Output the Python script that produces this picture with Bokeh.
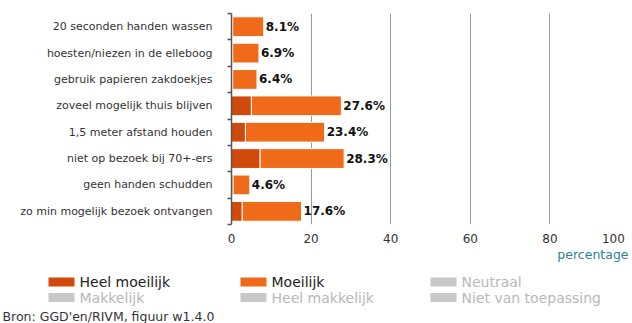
from bokeh.plotting import figure
from bokeh.layouts import column
from bokeh.models import Range1d, FixedTicker, ColumnDataSource
from bokeh.core.properties import value
from bokeh.embed import file_html
from bokeh.resources import INLINE

# ---- data ----
categories = ["20 seconden handen wassen", "hoesten/niezen in de elleboog",
              "gebruik papieren zakdoekjes", "zoveel mogelijk thuis blijven",
              "1,5 meter afstand houden", "niet op bezoek bij 70+-ers",
              "geen handen schudden", "zo min mogelijk bezoek ontvangen"]
heel_moeilijk = [0.3, 0.3, 0.3, 5.0, 3.5, 7.2, 0.4, 2.7]
totaal = [8.1, 6.9, 6.4, 27.6, 23.4, 28.3, 4.6, 17.6]
x_ticks = [0, 20, 40, 60, 80, 100]
legend_labels = ["Heel moeilijk", "Moeilijk", "Neutraal",
                 "Makkelijk", "Heel makkelijk", "Niet van toepassing"]
legend_colors = ["#d04a0b", "#ef6b1a", "#c8c8c8", "#c8c8c8", "#c8c8c8", "#c8c8c8"]
legend_text_colors = ["#222222", "#222222", "#b8b8b8", "#b8b8b8", "#b8b8b8", "#b8b8b8"]
source_text = "Bron: GGD'en/RIVM, figuur w1.4.0"
axis_title = "percentage"

FONT = "DejaVu Sans"
n = len(categories)
ypos = [n - i - 0.5 for i in range(n)]

src = ColumnDataSource(dict(
    y=ypos, heel=heel_moeilijk, tot=totaal,
    lab=[f"{t:.1f}%" for t in totaal]))

W = 632
TOP_H = 248
FL, FR, FT, FB = 231, 629, 13, 227   # frame edges on the canvas

p = figure(width=W, height=TOP_H, output_backend="svg", toolbar_location=None,
           x_range=Range1d(0, 100), y_range=Range1d(0, n),
           min_border_left=FL, min_border_right=W - FR, min_border_top=FT,
           min_border_bottom=TOP_H - FB, frame_align=False)
p.outline_line_color = None
p.background_fill_color = "white"
p.border_fill_color = "white"

p.hbar(y="y", left=0, right="heel", height=0.75, source=src,
       fill_color=legend_colors[0], line_color="white", line_width=1)
p.hbar(y="y", left="heel", right="tot", height=0.75, source=src,
       fill_color=legend_colors[1], line_color="white", line_width=1)
p.text(x="tot", y="y", text="lab", source=src, x_offset=2,
       text_baseline="middle", text_align="left",
       text_font=value(FONT), text_font_style="bold",
       text_font_size="12px", text_color="#111111")

# grid
p.ygrid.visible = False
p.xgrid.ticker = FixedTicker(ticks=x_ticks)
p.xgrid.grid_line_color = "#9a9a9a"
p.xgrid.grid_line_width = 1

# x axis
xa = p.xaxis[0]
xa.ticker = FixedTicker(ticks=x_ticks)
xa.axis_line_color = None
xa.major_tick_line_color = None
xa.minor_tick_line_color = None
xa.major_tick_out = 0
xa.major_tick_in = 0
xa.major_label_standoff = 7
xa.major_label_text_font = FONT
xa.major_label_text_font_size = "12px"
xa.major_label_text_color = "#333333"
xa.major_label_overrides = {100: "100" + "\u00a0" * 2}

# y axis
ya = p.yaxis[0]
ya.ticker = FixedTicker(ticks=ypos, minor_ticks=list(range(n + 1)))
ya.major_label_overrides = {y: c for y, c in zip(ypos, categories)}
ya.axis_line_color = "#555555"
ya.axis_line_width = 1.5
ya.major_tick_line_color = None
ya.major_tick_out = 0
ya.major_tick_in = 0
ya.minor_tick_line_color = "#555555"
ya.minor_tick_line_width = 1.5
ya.minor_tick_out = 4
ya.minor_tick_in = 0
ya.major_label_standoff = 15
ya.major_label_text_font = FONT
ya.major_label_text_font_size = "11px"
ya.major_label_text_color = "#333333"

# ---- bottom panel: axis title, legend, source (pixel coordinates) ----
BOT_H = 323 - TOP_H
b = figure(width=W, height=BOT_H, output_backend="svg", toolbar_location=None,
           x_range=Range1d(0, W), y_range=Range1d(323, TOP_H),
           x_axis_location=None, y_axis_location=None,
           min_border=0, min_border_left=0, min_border_right=0,
           min_border_top=0, min_border_bottom=0, frame_align=False)
b.outline_line_color = None
b.grid.visible = False
b.background_fill_color = "white"
b.border_fill_color = "white"

b.text(x=[628], y=[253.5], text=[axis_title], text_align="right",
       text_baseline="middle", text_font=value(FONT), text_font_size="12.5px",
       text_color="#2f7f9c")

col_x = [48, 240, 430]
row_y = [281.5, 297]
lx = [col_x[i % 3] for i in range(len(legend_labels))]
ly = [row_y[i // 3] for i in range(len(legend_labels))]
lsrc = ColumnDataSource(dict(
    x=[v + 13 for v in lx], tx=[v + 31 for v in lx], y=ly,
    lab=legend_labels, col=legend_colors, tcol=legend_text_colors))
b.rect(x="x", y="y", width=26, height=9, source=lsrc,
       fill_color="col", line_color=None)
b.text(x="tx", y="y", text="lab", source=lsrc, text_color="tcol",
       text_baseline="middle", text_font=value(FONT), text_font_size="14px")

b.text(x=[2], y=[315.5], text=[source_text], text_baseline="middle",
       text_font=value(FONT), text_font_size="12.5px", text_color="#333333")

layout = column(p, b, spacing=0)
open("out.html", "w").write(file_html(layout, INLINE))
